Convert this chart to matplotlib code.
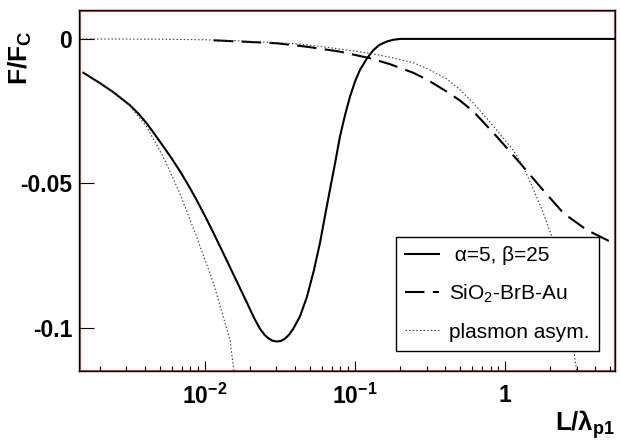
"""Casimir force ratio F/F_C versus L/lambda_p1 (ROOT-style figure)."""

import matplotlib

matplotlib.use("Agg")
import matplotlib.pyplot as plt
from matplotlib.patches import Rectangle
from matplotlib.ticker import FixedLocator, FuncFormatter, LogLocator, NullFormatter

plt.rcParams.update(
    {
        "font.family": ["Liberation Sans", "DejaVu Sans"],
        "mathtext.fontset": "custom",
        "mathtext.rm": "Liberation Sans",
        "mathtext.it": "Liberation Sans",
        "mathtext.bf": "Liberation Sans:bold",
        "lines.scale_dashes": False,
    }
)

# alpha=5, beta=25 curve
alpha_x = [0.00155, 0.0020, 0.00245, 0.00316, 0.0036, 0.00408, 0.0046, 0.00527,
           0.0060, 0.00681, 0.0078, 0.0088, 0.0100, 0.0114, 0.0130, 0.0147, 0.0168,
           0.019, 0.0212, 0.0233, 0.0250, 0.0265, 0.0282, 0.0300, 0.0320, 0.0340,
           0.0363, 0.0388, 0.0430, 0.0477, 0.0530, 0.0584, 0.0630, 0.0681, 0.0740,
           0.0794, 0.0860, 0.0926, 0.100, 0.108, 0.120, 0.132, 0.145, 0.163, 0.180,
           0.200, 5.4]
alpha_y = [-0.0117, -0.0153, -0.0184, -0.0229, -0.0258, -0.0291, -0.0328, -0.0371,
           -0.0413, -0.0457, -0.0508, -0.0557, -0.0612, -0.0671, -0.0732, -0.0790,
           -0.0853, -0.0911, -0.0964, -0.1003, -0.1024, -0.1036, -0.1044, -0.1047,
           -0.1045, -0.1038, -0.1024, -0.1003, -0.0960, -0.0895, -0.0805, -0.0707,
           -0.0615, -0.0522, -0.0425, -0.0338, -0.0262, -0.0200, -0.0148, -0.0107,
           -0.0068, -0.0040, -0.0021, -0.0009, -0.0003, 0.0, 0.0]

# SiO2-BrB-Au curve
sio2_x = [0.0115, 0.0171, 0.03, 0.0477, 0.0794, 0.126, 0.17, 0.244, 0.30, 0.408,
          0.50, 0.615, 0.88, 1.26, 1.71, 2.45, 3.5, 5.0, 5.4]
sio2_y = [-0.0005, -0.0009, -0.0015, -0.0027, -0.0044, -0.0067, -0.0087, -0.0117,
          -0.0140, -0.0182, -0.0213, -0.0251, -0.0338, -0.0430, -0.0511, -0.0603,
          -0.0661, -0.0701, -0.0708]

# plasmon asymptotes (small-L and large-L branches)
asym_small_x = [0.00155, 0.0020, 0.00245, 0.00316, 0.00408, 0.00527, 0.00681,
                0.0088, 0.0114, 0.0147, 0.0160]
asym_small_y = [-0.0117, -0.0153, -0.0184, -0.0231, -0.0303, -0.0407, -0.0534,
                -0.0684, -0.0845, -0.1042, -0.1190]
asym_large_x = [0.00145, 0.005, 0.01, 0.0171, 0.03, 0.0477, 0.0794, 0.126, 0.17,
                0.244, 0.30, 0.408, 0.50, 0.615, 0.84, 1.13, 1.32, 1.55, 1.80, 2.05,
                2.3, 2.6, 3.0]
asym_large_y = [0.0, -0.0001, -0.0003, -0.0007, -0.0013, -0.0020, -0.0035, -0.0050,
                -0.0063, -0.0082, -0.0102, -0.0138, -0.0175, -0.0222, -0.0303,
                -0.0384, -0.0442, -0.0522, -0.0603, -0.0684, -0.0780, -0.0920,
                -0.1150]

y_ticks = [0.0, -0.05, -0.1]
y_tick_labels = ["0", "-0.05", "-0.1"]
x_ticks = [0.01, 0.1, 1.0]
x_tick_labels = [r"$\mathbf{10^{-2}}$", r"$\mathbf{10^{-1}}$", r"$\mathbf{1}$"]


fig = plt.figure(figsize=(6.2, 4.44), dpi=100)
ax = fig.add_axes([79 / 620, 1 - 371 / 444, 536 / 620, 361 / 444])

dots = (0, (1.0, 1.6))
ax.plot(alpha_x, alpha_y, color="black", lw=1.5, label=r" α=5, β=25")
ax.plot(sio2_x, sio2_y, color="black", lw=1.5, linestyle=(0, (14, 6)),
        label=r"SiO$_2$-BrB-Au")
ax.plot(asym_large_x, asym_large_y, color="#333333", lw=0.8, linestyle=dots,
        label="plasmon asym.")
ax.plot(asym_small_x, asym_small_y, color="#333333", lw=0.8, linestyle=dots)

ax.set_xscale("log")
ax.set_xlim(0.00145, 5.4)
ax.set_ylim(-0.1149, 0.0100)

ax.yaxis.set_major_locator(FixedLocator(y_ticks))
ax.yaxis.set_major_formatter(FuncFormatter(lambda v, p: y_tick_labels[p] if p < 3 else ""))
ax.xaxis.set_major_locator(FixedLocator(x_ticks))
ax.xaxis.set_major_formatter(FuncFormatter(lambda v, p: x_tick_labels[p] if p < 3 else ""))
ax.xaxis.set_minor_locator(LogLocator(base=10, subs=range(2, 10), numticks=20))
ax.xaxis.set_minor_formatter(NullFormatter())

ax.tick_params(axis="y", which="major", direction="in", length=11, width=0.8,
               labelsize=16.5, pad=5)
ax.tick_params(axis="x", which="major", direction="in", length=7.5, width=0.8,
               labelsize=16.5, pad=9)
ax.tick_params(axis="x", which="minor", direction="in", length=3.8, width=0.8)
for lab in ax.get_yticklabels():
    lab.set_fontweight("bold")

for sp in ax.spines.values():
    sp.set_color("black")
    sp.set_linewidth(1.0)
ax.add_patch(Rectangle((1.3 / 536, 1.3 / 361), 1 - 2.6 / 536, 1 - 2.6 / 361,
                       transform=ax.transAxes, fill=False, edgecolor="#d05050",
                       lw=0.8, zorder=0.5, clip_on=False))

leg = ax.legend(loc="lower right", bbox_to_anchor=(0.970, 0.055), fontsize=15,
                frameon=True, fancybox=False, shadow=False, framealpha=1,
                edgecolor="black", handlelength=1.6, handletextpad=0.5,
                labelspacing=0.85, borderpad=0.45, borderaxespad=0)
leg.get_frame().set_linewidth(1.0)

fig.text(615 / 620, 1 - 431 / 444, r"$\mathbf{L/\lambda_{p1}}$", ha="right",
         va="baseline", fontsize=18.5)
fig.text(20 / 620, 1 - 30 / 444, r"$\mathbf{F/F_C}$", ha="center", va="top",
         rotation=90, fontsize=19)

fig.savefig("out.png", dpi=100, facecolor="white")
